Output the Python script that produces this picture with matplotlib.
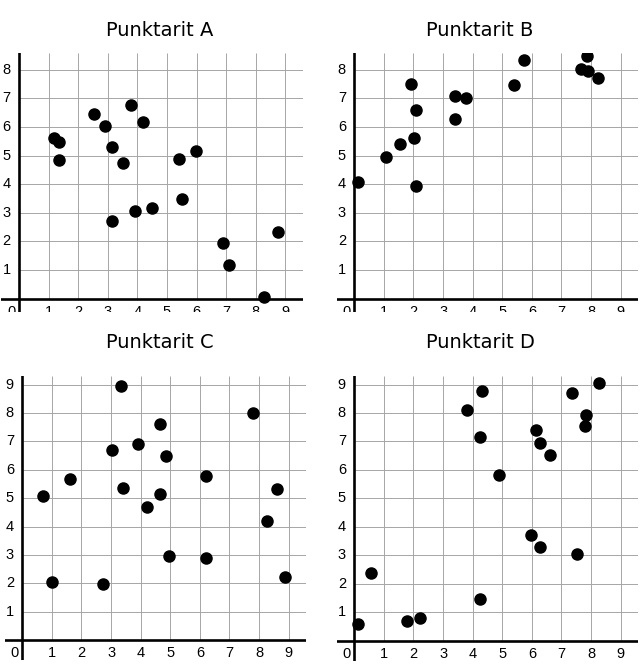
import matplotlib
matplotlib.use("Agg")
import matplotlib.pyplot as plt

# point sets
titles = ["Punktarit A", "Punktarit B", "Punktarit C", "Punktarit D"]

a_x = [1.18, 1.36, 1.35, 2.54, 2.92, 3.13, 3.53, 3.79, 4.18, 3.13, 3.93, 4.51,
       5.40, 5.99, 5.52, 6.91, 7.11, 8.75, 8.29]
a_y = [5.61, 5.47, 4.86, 6.47, 6.04, 5.30, 4.76, 6.77, 6.19, 2.72, 3.08, 3.17,
       4.88, 5.15, 3.50, 1.95, 1.17, 2.32, 0.07]

b_x = [0.11, 1.07, 1.54, 1.90, 2.08, 2.01, 2.08, 3.41, 3.76, 3.41, 5.41, 5.73,
       7.66, 7.89, 7.87, 8.23]
b_y = [4.08, 4.94, 5.42, 7.49, 6.59, 5.63, 3.93, 7.07, 7.03, 6.27, 7.46, 8.33,
       8.03, 7.96, 8.50, 7.70]

c_x = [3.33, 0.71, 0.99, 1.61, 2.73, 3.03, 3.40, 3.90, 4.23, 4.64, 4.85, 4.64,
       4.96, 6.21, 6.21, 7.80, 8.60, 8.26, 8.88]
c_y = [8.94, 5.07, 2.03, 5.67, 1.97, 6.68, 5.35, 6.90, 4.69, 7.62, 6.47, 5.15,
       2.97, 5.77, 2.88, 7.99, 5.31, 4.18, 2.23]

d_x = [0.11, 0.55, 1.79, 2.23, 3.82, 4.30, 4.25, 4.24, 4.89, 5.98, 6.29, 6.14,
       6.29, 6.60, 7.51, 7.36, 7.84, 7.78, 8.27]
d_y = [0.60, 2.39, 0.71, 0.81, 8.10, 8.78, 7.14, 1.48, 5.81, 3.72, 3.30, 7.42,
       6.96, 6.51, 3.04, 8.72, 7.92, 7.56, 9.06]

x_ticks = list(range(1, 10))
y_ticks_top = list(range(1, 9))
y_ticks_bottom = list(range(1, 10))

W, H = 640, 667
fig = plt.figure(figsize=(W / 100, H / 100), dpi=100)


def make_axes(left_px, top_px, ylim, unit_y):
    xlim = (-0.6, 9.6)
    width = (xlim[1] - xlim[0]) * 29.6
    height = (ylim[1] - ylim[0]) * unit_y
    ax = fig.add_axes([left_px / W, (H - top_px - height) / H, width / W, height / H])
    ax.set_xlim(*xlim)
    ax.set_ylim(*ylim)
    ax.axis("off")
    return ax


def draw_panel(ax, xs, ys, yticks, ytop):
    grid_kw = dict(color="#a6a6a6", lw=0.7, zorder=1)
    ax.vlines(x_ticks, 0, ytop, **grid_kw)
    ax.hlines(yticks, 0, 9.6, **grid_kw)
    ax.axhline(0, color="black", lw=1.9, zorder=2)
    ax.axvline(0, color="black", lw=1.9, zorder=2)
    ax.scatter(xs, ys, s=64, color="black", zorder=3, clip_on=True)

    lab_kw = dict(textcoords="offset points", fontsize=10.5,
                  family="Liberation Sans", annotation_clip=False, clip_on=True)
    for v in x_ticks:
        ax.annotate(str(v), (v, 0), xytext=(0, -4.5), ha="center", va="top", **lab_kw)
    for v in yticks:
        ax.annotate(str(v), (0, v), xytext=(-6, 0), ha="right", va="center", **lab_kw)
    ax.annotate("0", (0, 0), xytext=(-2.5, -4.5), ha="right", va="top", **lab_kw)


ax_a = make_axes(1.2, 52.7, (-0.45, 8.6), 28.6)
ax_b = make_axes(336.5, 52.7, (-0.45, 8.6), 28.6)
ax_c = make_axes(4.5, 376.0, (-0.7, 9.3), 28.4)
ax_d = make_axes(336.5, 376.0, (-0.7, 9.3), 28.47)

draw_panel(ax_a, a_x, a_y, y_ticks_top, 8.6)
draw_panel(ax_b, b_x, b_y, y_ticks_top, 8.6)
draw_panel(ax_c, c_x, c_y, y_ticks_bottom, 9.3)
draw_panel(ax_d, d_x, d_y, y_ticks_bottom, 9.3)

title_kw = dict(ha="center", va="center", fontsize=14, family="DejaVu Sans")
fig.text(0.25, 1 - 30 / H, titles[0], **title_kw)
fig.text(0.75, 1 - 30 / H, titles[1], **title_kw)
fig.text(0.25, 1 - 343 / H, titles[2], **title_kw)
fig.text(0.75, 1 - 343 / H, titles[3], **title_kw)

fig.savefig("out.png", dpi=100, facecolor="white")
